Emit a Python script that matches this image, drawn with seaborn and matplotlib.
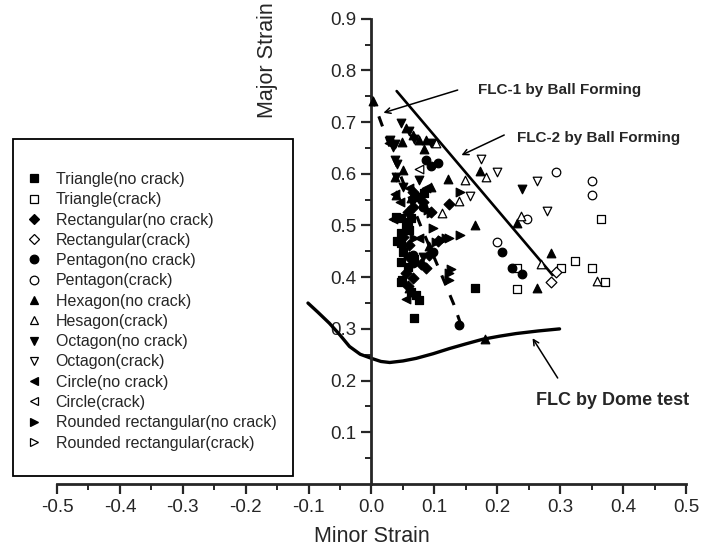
import matplotlib
matplotlib.use('Agg')
import matplotlib.pyplot as plt
from matplotlib.lines import Line2D
from matplotlib.patches import Rectangle
import pandas as pd
import seaborn as sns

# ---- data (minor strain, major strain) ----
tri_nc_x = [0.084, 0.074, 0.039, 0.047, 0.058, 0.063, 0.055, 0.059, 0.047, 0.050, 0.068, 0.047, 0.058, 0.047, 0.071, 0.076, 0.067, 0.165, 0.047, 0.040, 0.049, 0.063]
tri_nc_y = [0.562, 0.556, 0.517, 0.514, 0.507, 0.515, 0.498, 0.491, 0.466, 0.449, 0.436, 0.430, 0.420, 0.391, 0.366, 0.356, 0.322, 0.379, 0.485, 0.470, 0.395, 0.372]
tri_c_x = [0.232, 0.302, 0.323, 0.351, 0.372, 0.232, 0.365]
tri_c_y = [0.418, 0.418, 0.431, 0.418, 0.391, 0.377, 0.513]
rect_nc_x = [0.066, 0.082, 0.066, 0.058, 0.050, 0.060, 0.060, 0.092, 0.079, 0.087, 0.055, 0.066, 0.058, 0.105, 0.123, 0.095]
rect_nc_y = [0.565, 0.546, 0.536, 0.527, 0.478, 0.462, 0.440, 0.443, 0.426, 0.417, 0.408, 0.398, 0.383, 0.470, 0.541, 0.527]
rect_c_x = [0.293, 0.286]
rect_c_y = [0.411, 0.391]
pent_nc_x = [0.086, 0.095, 0.105, 0.208, 0.224, 0.240, 0.139, 0.066, 0.066, 0.082, 0.097]
pent_nc_y = [0.627, 0.615, 0.620, 0.449, 0.418, 0.406, 0.308, 0.443, 0.427, 0.535, 0.449]
pent_c_x = [0.294, 0.351, 0.351, 0.247, 0.199]
pent_c_y = [0.604, 0.587, 0.559, 0.513, 0.469]
hex_nc_x = [0.173, 0.231, 0.165, 0.286, 0.263, 0.121, 0.055, 0.066, 0.076, 0.087, 0.084, 0.049, 0.050, 0.038, 0.039, 0.063, 0.095, 0.091, 0.066, 0.060, 0.003, 0.180]
hex_nc_y = [0.605, 0.505, 0.501, 0.446, 0.380, 0.589, 0.688, 0.675, 0.665, 0.665, 0.647, 0.662, 0.607, 0.593, 0.559, 0.553, 0.575, 0.460, 0.372, 0.380, 0.740, 0.280]
hex_c_x = [0.182, 0.238, 0.270, 0.358, 0.149, 0.139, 0.112, 0.103]
hex_c_y = [0.593, 0.519, 0.426, 0.393, 0.588, 0.548, 0.525, 0.659]
oct_nc_x = [0.240, 0.047, 0.059, 0.068, 0.095, 0.029, 0.038, 0.038, 0.041, 0.039, 0.076, 0.050, 0.082, 0.034]
oct_nc_y = [0.570, 0.698, 0.683, 0.667, 0.659, 0.665, 0.658, 0.627, 0.619, 0.594, 0.588, 0.575, 0.440, 0.652]
oct_c_x = [0.174, 0.199, 0.263, 0.279, 0.157]
oct_c_y = [0.628, 0.603, 0.586, 0.528, 0.557]
circ_nc_x = [0.028, 0.060, 0.087, 0.037, 0.034, 0.075, 0.055, 0.045]
circ_nc_y = [0.659, 0.572, 0.572, 0.560, 0.512, 0.476, 0.357, 0.545]
circ_c_x = [0.075]
circ_c_y = [0.609]
rr_nc_x = [0.141, 0.090, 0.095, 0.097, 0.068, 0.103, 0.112, 0.119, 0.141, 0.124, 0.124, 0.124, 0.127]
rr_nc_y = [0.565, 0.530, 0.525, 0.496, 0.476, 0.469, 0.472, 0.476, 0.482, 0.476, 0.408, 0.395, 0.415]
rr_c_x = []
rr_c_y = []

# curves
flc1_x = [0.000, 0.015, 0.045, 0.079, 0.106, 0.131, 0.148]
flc1_y = [0.750, 0.700, 0.600, 0.497, 0.420, 0.347, 0.288]
flc2_x = [0.040, 0.288]
flc2_y = [0.760, 0.404]
dome_x = [-0.101, -0.085, -0.067, -0.050, -0.035, -0.018, 0.000, 0.015, 0.029, 0.050, 0.071, 0.098, 0.124, 0.150, 0.177, 0.204, 0.230, 0.265, 0.299]
dome_y = [0.350, 0.332, 0.311, 0.288, 0.266, 0.251, 0.243, 0.237, 0.235, 0.238, 0.243, 0.252, 0.262, 0.271, 0.280, 0.286, 0.291, 0.296, 0.300]

series = [
    ('Triangle(no crack)', 's', True, tri_nc_x, tri_nc_y),
    ('Triangle(crack)', 's', False, tri_c_x, tri_c_y),
    ('Rectangular(no crack)', 'D', True, rect_nc_x, rect_nc_y),
    ('Rectangular(crack)', 'D', False, rect_c_x, rect_c_y),
    ('Pentagon(no crack)', 'o', True, pent_nc_x, pent_nc_y),
    ('Pentagon(crack)', 'o', False, pent_c_x, pent_c_y),
    ('Hexagon(no crack)', '^', True, hex_nc_x, hex_nc_y),
    ('Hesagon(crack)', '^', False, hex_c_x, hex_c_y),
    ('Octagon(no crack)', 'v', True, oct_nc_x, oct_nc_y),
    ('Octagon(crack)', 'v', False, oct_c_x, oct_c_y),
    ('Circle(no crack)', '<', True, circ_nc_x, circ_nc_y),
    ('Circle(crack)', '<', False, circ_c_x, circ_c_y),
    ('Rounded rectangular(no crack)', '>', True, rr_nc_x, rr_nc_y),
    ('Rounded rectangular(crack)', '>', False, rr_c_x, rr_c_y),
]

sns.set_style('ticks')
plt.rcParams['font.family'] = ['Liberation Sans', 'DejaVu Sans']

fig = plt.figure(figsize=(7.01, 5.56), dpi=100)
ax = fig.add_axes([0.0813, 0.1295, 0.8973, 0.8369])

for label, mk, filled, xs, ys in series:
    if len(xs) == 0:
        continue
    d = pd.DataFrame({'x': xs, 'y': ys})
    size = 30 if mk == 'D' else 38
    sns.scatterplot(data=d, x='x', y='y', ax=ax, marker=mk, s=size,
                    color='black' if filled else 'white', edgecolor='black',
                    linewidth=0.9, legend=False, zorder=3)

ax.plot(flc1_x, flc1_y, color='black', lw=2.2, ls=(0, (3.5, 3.5)), zorder=2)
ax.plot(flc2_x, flc2_y, color='black', lw=1.9, zorder=2)
ax.plot(dome_x, dome_y, color='black', lw=2.4, zorder=2)

# arrows and labels
arr = dict(arrowstyle='->', lw=1.1, color='black', shrinkA=0, shrinkB=0)
ax.annotate('', xy=(0.019, 0.718), xytext=(0.137, 0.762), arrowprops=arr)
ax.annotate('', xy=(0.143, 0.636), xytext=(0.211, 0.675), arrowprops=arr)
ax.annotate('', xy=(0.256, 0.282), xytext=(0.296, 0.205), arrowprops=arr)
ax.text(0.169, 0.762, 'FLC-1 by Ball Forming', fontsize=11, fontweight='bold', va='center', ha='left')
ax.text(0.231, 0.669, 'FLC-2 by Ball Forming', fontsize=11, fontweight='bold', va='center', ha='left')
ax.text(0.262, 0.161, 'FLC by Dome test', fontsize=13, fontweight='bold', va='center', ha='left')

# axes styling
ax.set_xlim(-0.5, 0.5)
ax.set_ylim(0, 0.9)
ax.spines['left'].set_position(('data', 0))
ax.spines['top'].set_visible(False)
ax.spines['right'].set_visible(False)
for sp in ('left', 'bottom'):
    ax.spines[sp].set_linewidth(2.0)
ax.set_xticks([i / 10 for i in range(-5, 6)])
ax.set_xticks([i / 20 for i in range(-10, 11)], minor=True)
ax.set_xticklabels(['%.1f' % (i / 10) for i in range(-5, 6)])
ax.set_yticks([i / 10 for i in range(1, 10)])
ax.set_yticks([i / 20 for i in range(1, 19)], minor=True)
ax.set_yticklabels(['%.1f' % (i / 10) for i in range(1, 10)])
ax.tick_params(which='major', direction='out', length=7, width=1.6, labelsize=13.5, pad=4)
ax.tick_params(which='minor', direction='out', length=4.3, width=1.4)
ax.set_xlabel('')
ax.set_ylabel('')
ax.patch.set_alpha(0)

fig.text(372 / 701, 1 - 537 / 556, 'Minor Strain', fontsize=15.5, ha='center', va='center')
fig.text(268 / 701, 1 - 60 / 556, 'Major Strain', fontsize=15.5, ha='center', va='center',
         rotation=90)

# legend
handles = [Line2D([], [], ls='', marker=mk, markersize=5.5 if mk == 'D' else 6.2,
                  markerfacecolor='black' if filled else 'white',
                  markeredgecolor='black', markeredgewidth=0.9)
           for label, mk, filled, xs, ys in series]
labels = [s[0] for s in series]
fig.patches.append(Rectangle((13 / 701, 1 - 476 / 556), 280 / 701, 337 / 556,
                             transform=fig.transFigure, fill=False, lw=1.3,
                             edgecolor='black', figure=fig))
fig.legend(handles, labels, loc='upper left', bbox_to_anchor=(26 / 701, 1 - 172 / 556),
           frameon=False, fontsize=11.5, borderpad=0, borderaxespad=0,
           handlelength=1.0, handletextpad=0.85, labelspacing=0.33)

fig.savefig('out.png', dpi=100)
